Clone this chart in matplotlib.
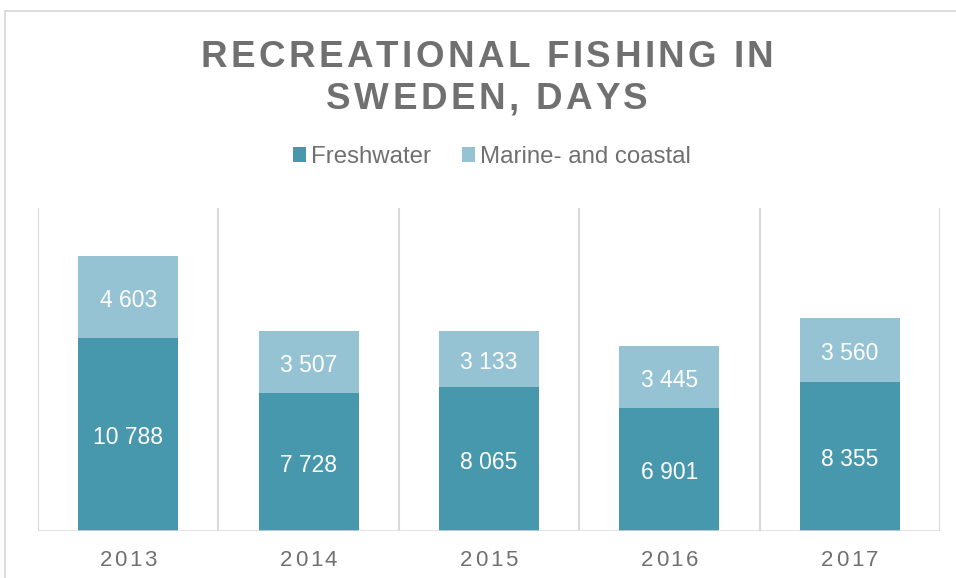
import matplotlib
matplotlib.use("Agg")
import matplotlib.pyplot as plt
from matplotlib.font_manager import FontProperties, findfont, get_font
from matplotlib.patches import Rectangle
from matplotlib.transforms import offset_copy
import numpy as np

years = ["2013", "2014", "2015", "2016", "2017"]
freshwater = [10788, 7728, 8065, 6901, 8355]
marine = [4603, 3507, 3133, 3445, 3560]
series_names = ["Freshwater", "Marine- and coastal"]
title_lines = ["RECREATIONAL FISHING IN", "SWEDEN, DAYS"]

C_FRESH = "#4898AD"
C_MARINE = "#95C3D4"
C_TEXT = "#707070"
C_GRID = "#D9D9D9"

W, H, DPI = 956, 578, 100
fig = plt.figure(figsize=(W / DPI, H / DPI), dpi=DPI)
FONT = "Liberation Sans"
CAP = 0.716


def fy(y):
    return (H - y) / H


def spaced(s, cx, cy, size, spacing, weight="normal", color=C_TEXT):
    fp = FontProperties(family=FONT, weight=weight, size=size)
    font = get_font(findfont(fp))
    font.set_size(size, DPI)
    advs = []
    for ch in s:
        g = font.load_char(ord(ch))
        advs.append(g.linearHoriAdvance / 65536.0)
    total = sum(advs) + spacing * (len(s) - 1)
    x = cx - total / 2
    base = cy + CAP * size * DPI / 72 / 2
    for ch, a in zip(s, advs):
        if ch != " ":
            fig.text(x / W, fy(base), ch, fontproperties=fp, color=color,
                     ha="left", va="baseline")
        x += a + spacing


# outer frame
fig.patches.append(Rectangle((5 / W, -0.05), 1.2, fy(11) + 0.05, transform=fig.transFigure,
                             fill=False, edgecolor=C_GRID, linewidth=1.3))

# title
spaced(title_lines[0], 487, 53.5, 26.5, 3.4, weight="bold")
spaced(title_lines[1], 487, 96, 26.5, 3.4, weight="bold")

ax = fig.add_axes([38 / W, fy(531), (940 - 38) / W, (531 - 208) / H])
x = np.arange(len(years))
bw = 0.555
b1 = ax.bar(x, freshwater, bw, color=C_FRESH, label=series_names[0], zorder=3)
b2 = ax.bar(x, marine, bw, bottom=freshwater, color=C_MARINE, label=series_names[1], zorder=3)

LS = 16.5
lab_tr = offset_copy(ax.transData, fig=fig, y=-CAP * LS * DPI / 72 / 2 - 1.5, units="dots")
for i in range(len(years)):
    ax.text(x[i], freshwater[i] / 2, f"{freshwater[i]:,}".replace(",", " "),
            ha="center", va="baseline", color="white", fontsize=LS, family=FONT,
            zorder=4, transform=lab_tr)
    ax.text(x[i], freshwater[i] + marine[i] / 2, f"{marine[i]:,}".replace(",", " "),
            ha="center", va="baseline", color="white", fontsize=LS, family=FONT,
            zorder=4, transform=lab_tr)

ax.set_xlim(-0.5, len(years) - 0.5)
ax.set_ylim(0, 18100)
for b in np.arange(-0.5, len(years), 1.0):
    ax.axvline(b, color=C_GRID, linewidth=1.5, zorder=1)
ax.axhline(0, color=C_GRID, linewidth=1.8, zorder=5)
for s in ax.spines.values():
    s.set_visible(False)
ax.set_xticks([])
ax.set_yticks([])
ax.patch.set_alpha(0)

# year labels
for i, yr in enumerate(years):
    px = 38 + (i + 0.5) * (940 - 38) / len(years)
    spaced(yr, px, 558, 16, 2.6)

leg = fig.legend(handles=[b1, b2], labels=series_names, loc="center",
                 bbox_to_anchor=(492 / W, fy(157)), ncol=2, frameon=False,
                 prop=FontProperties(family=FONT, size=17.3), labelcolor=C_TEXT,
                 handlelength=0.55, handleheight=0.55, handletextpad=0.2,
                 columnspacing=1.3)

fig.savefig("out.png", dpi=DPI)
